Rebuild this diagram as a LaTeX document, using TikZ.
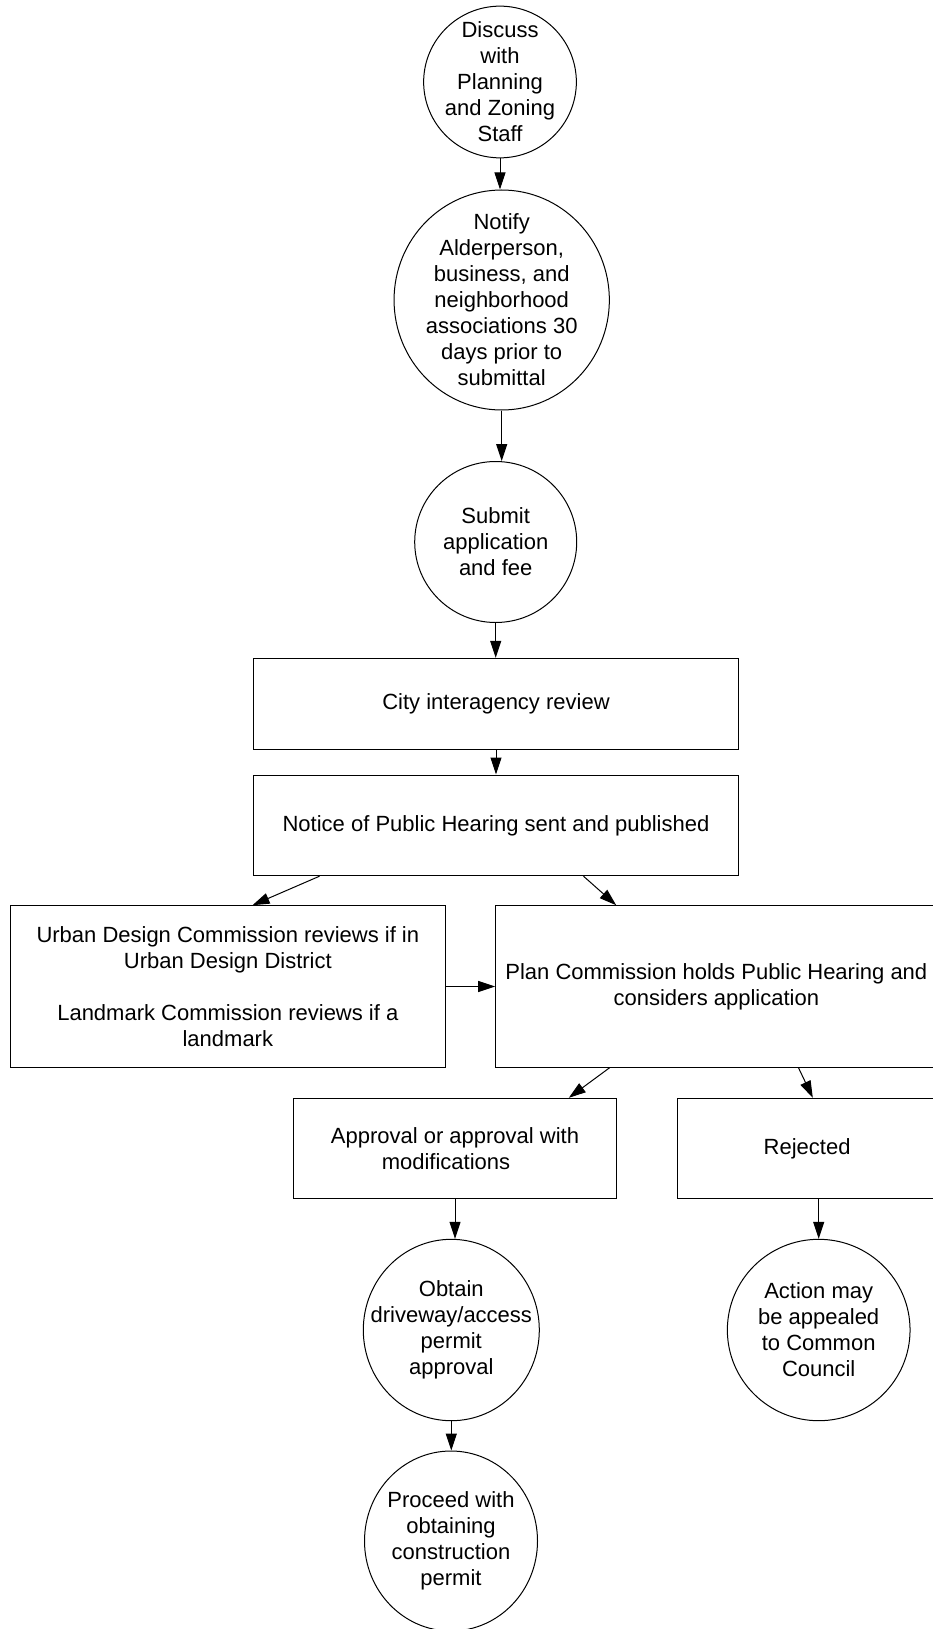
\documentclass[tikz,border=0pt]{standalone}
\usepackage{fontspec}
\setmainfont{Liberation Sans}
\usetikzlibrary{arrows.meta,shapes.geometric}
\begin{document}
\begin{tikzpicture}[x=1pt,y=-1pt,
  txt/.style={font=\fontsize{22}{26}\selectfont, align=center, inner sep=0pt},
  box/.style 2 args={txt, rectangle, draw=black, line width=1pt,
    minimum width=#1, minimum height=#2},
  oval/.style 2 args={ellipse, draw=black, line width=1pt, inner sep=0pt,
    minimum width=#1, minimum height=#2},
  conn/.style={-{Triangle[length=17pt,width=11pt]}, line width=1pt, draw=black}
]
% page frame
\path[use as bounding box] (0,0) rectangle (933,1629);
\clip (0,0) rectangle (933,1629);

% round steps: outline first, then its text on top
\node[oval={152.7pt}{151.7pt}] (discuss) at (500,82) {};
\node[txt] (discuss-t) at (discuss.center)
  {Discuss\\with\\Planning\\and Zoning\\Staff};
\node[oval={215.3pt}{220pt}] (notify) at (501.7,300) {};
\node[txt] (notify-t) at (notify.center)
  {Notify\\Alderperson,\\business, and\\neighborhood\\associations 30\\days prior to\\submittal};
\node[oval={162pt}{161pt}] (submit) at (495.7,542) {};
\node[txt] (submit-t) at (submit.center) {Submit\\application\\and fee};
\node[oval={176pt}{181.4pt}] (obtain) at (451.3,1330) {};
\node[txt] (obtain-t) at (obtain.center)
  {Obtain\\driveway/access\\permit\\approval};
\node[oval={173pt}{180pt}] (proceed) at (451,1541) {};
\node[txt] (proceed-t) at (proceed.center)
  {Proceed with\\obtaining\\construction\\permit};
\node[oval={182.7pt}{181.4pt}] (action) at (818.7,1330) {};
\node[txt] (action-t) at (action.center)
  {Action may\\be appealed\\to Common\\Council};

% rectangular steps
\node[box={485.4pt}{91pt}] (city) at (496,703.8) {City interagency review};
\node[box={485.4pt}{100.7pt}] (notice) at (496,825.35)
  {Notice of Public Hearing sent and published};
\node[box={434.3pt}{161.6pt}] (udc) at (227.85,986.5)
  {Urban Design Commission reviews if in\\Urban Design District\\[26pt]Landmark Commission reviews if a\\landmark};
\node[box={441.3pt}{161.6pt}] (pc) at (716.35,986.5)
  {Plan Commission holds Public Hearing and\\considers application};
\node[box={323.4pt}{100pt}] (approval) at (455,1148.3)
  {Approval or approval with\\modifications\hspace*{18pt}};
\node[box={259.7pt}{100pt}] (rejected) at (807.15,1148.3) {Rejected};

% connectors
\draw[conn] (discuss.south) -- (discuss.south |- notify.north);
\draw[conn] (notify.south) -- (notify.south |- submit.north);
\draw[conn] (submit.south) -- (submit.south |- city.north);
\draw[conn] (city.south) -- (notice.north);
\draw[conn] ([xshift=66.7pt]notice.south west) -- ([xshift=242.3pt]udc.north west);
\draw[conn] ([xshift=330.7pt]notice.south west) -- ([xshift=121pt]pc.north west);
\draw[conn] (udc.east) -- (udc.east -| pc.west);
\draw[conn] ([xshift=114.3pt]pc.south west) -- ([xshift=276pt]approval.north west);
\draw[conn] ([xshift=303.3pt]pc.south west) -- ([xshift=136pt]rejected.north west);
\draw[conn] (approval.south) -- (approval.south |- obtain.north);
\draw[conn] (action.north |- rejected.south) -- (action.north);
\draw[conn] (obtain.south) -- (obtain.south |- proceed.north);
\end{tikzpicture}
\end{document}
